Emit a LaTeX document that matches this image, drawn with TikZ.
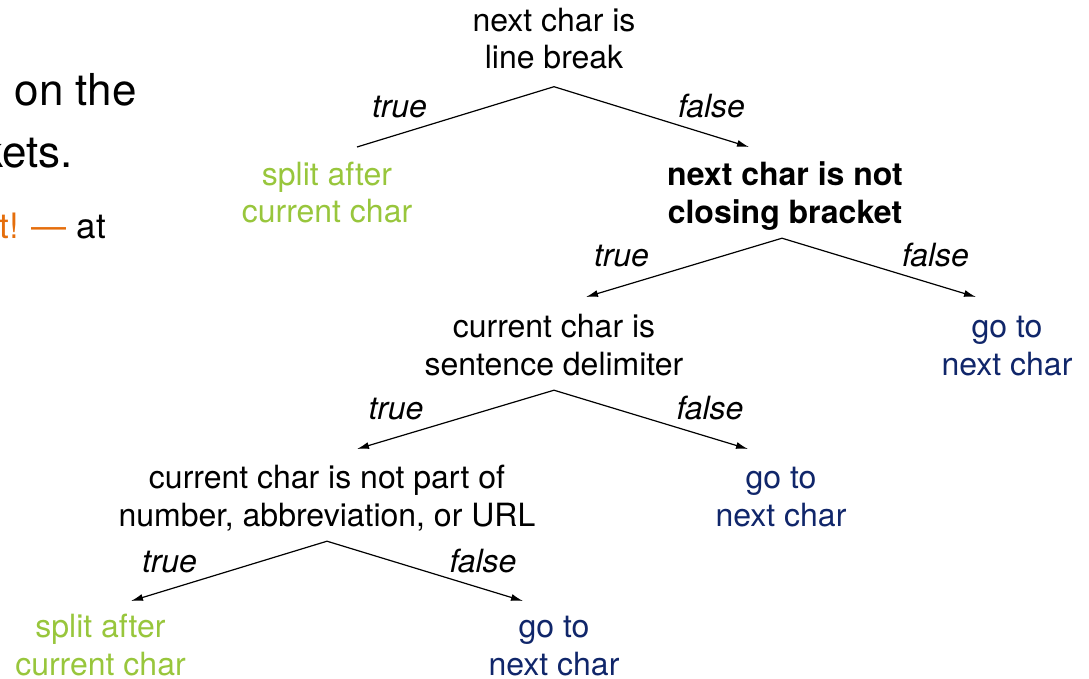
\documentclass[tikz,border=0pt]{standalone}
\usepackage{fontspec}
\setmainfont{TeX Gyre Heros}
\usetikzlibrary{arrows.meta}
\definecolor{splitgreen}{RGB}{152,198,60}
\definecolor{gonavy}{RGB}{16,38,106}
\definecolor{accentorange}{RGB}{229,110,12}
\begin{document}
\begin{tikzpicture}[x=1pt,y=-1pt,
  txt/.style={align=center, inner sep=0pt, font=\fontsize{32}{37.5}\selectfont},
  test/.style={txt, text=black},
  testbold/.style={txt, font=\fontsize{32}{37.5}\selectfont\bfseries},
  split/.style={txt, text=splitgreen},
  goon/.style={txt, text=gonavy},
  branch/.style={line width=1.2pt, draw=black},
  arrowbranch/.style={branch, -{Latex[length=12pt,width=7pt]}},
  blabel/.style={anchor=base, inner sep=0pt, font=\fontsize{32}{37.5}\selectfont\itshape},
  slide/.style={anchor=base east, inner sep=0pt}
]
\clip (0,0) rectangle (1089,678);

% text of the slide, running off the left edge
\node[slide, font=\fontsize{44}{50}\selectfont] (slideA) at (137,105) {on the};
\node[slide, font=\fontsize{44}{50}\selectfont] (slideB) at (73,167) {kets.};
\node[slide, font=\fontsize{35}{40}\selectfont] (slideC) at (106,238) {\textcolor{accentorange}{t! —} at};

% decision tree
\node[test] (root) at (554,42.5) {\strut next char is\\line break\strut};
\node[split] (splitA) at (327,196.5) {\strut split after\\current char\strut};
\node[testbold] (bracket) at (785,197) {\strut next char is not\\closing bracket\strut};
\node[test] (delim) at (554,349) {\strut current char is\\sentence delimiter\strut};
\node[goon] (goA) at (1007,349) {\strut go to\\next char\strut};
\node[test] (notpart) at (327,500) {\strut current char is not part of\\number, abbreviation, or URL\strut};
\node[goon] (goB) at (781,500) {\strut go to\\next char\strut};
% bottom row: no depth strut on the last line, so the boxes end at the baseline
\node[split] (splitB) at (100.5,643.4) {\strut split after\\current char};
\node[goon] (goC) at (554,643.4) {\strut go to\\next char};

% branch points below each test
\coordinate (rootApex) at ([yshift=-6.5pt]root.south);
\coordinate (bracketApex) at ([xshift=-3pt,yshift=-3.5pt]bracket.south);
\coordinate (delimApex) at ([yshift=-3.5pt]delim.south);
\coordinate (notpartApex) at ([yshift=-3.5pt]notpart.south);

% arrow ends above each outcome
\coordinate (toSplitA) at (357,147);
\coordinate (toBracket) at (749,147);
\coordinate (toDelim) at (586,297);
\coordinate (toGoA) at (976,297);
\coordinate (toNotpart) at (357,449);
\coordinate (toGoB) at (748,449);
\coordinate (toSplitB) at (131,601);
\coordinate (toGoC) at (523,601);

\draw[branch] (rootApex) -- (toSplitA);
\draw[arrowbranch] (rootApex) -- (toBracket);
\draw[arrowbranch] (bracketApex) -- (toDelim);
\draw[arrowbranch] (bracketApex) -- (toGoA);
\draw[arrowbranch] (delimApex) -- (toNotpart);
\draw[arrowbranch] (delimApex) -- (toGoB);
\draw[arrowbranch] (notpartApex) -- (toSplitB);
\draw[arrowbranch] (notpartApex) -- (toGoC);

% branch labels
\node[blabel] (t1) at (399.5,117) {true};
\node[blabel] (f1) at (711.5,117) {false};
\node[blabel] (t2) at (621.5,266) {true};
\node[blabel] (f2) at (935.5,266) {false};
\node[blabel] (t3) at (396,419) {true};
\node[blabel] (f3) at (710,419) {false};
\node[blabel] (t4) at (169.5,572) {true};
\node[blabel] (f4) at (483,572) {false};
\end{tikzpicture}
\end{document}
